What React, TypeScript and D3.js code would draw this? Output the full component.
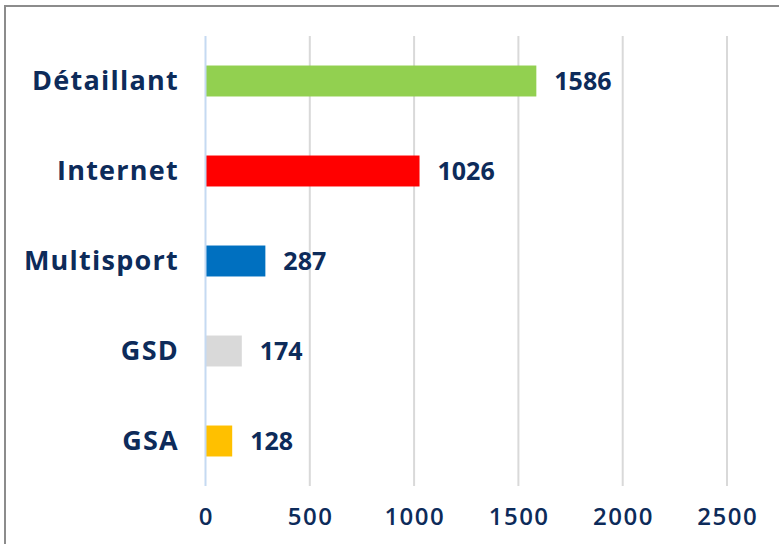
import React from "react";
import * as d3 from "d3";

const categories = ["Détaillant", "Internet", "Multisport", "GSD", "GSA"];
const values = [1586, 1026, 287, 174, 128];
const colors = ["#92d050", "#ff0000", "#0070c0", "#d9d9d9", "#ffc000"];
const ticks = [0, 500, 1000, 1500, 2000, 2500];

const W = 779;
const H = 544;
const navy = "#0d2b5a";
const font = "'Open Sans', 'DejaVu Sans', sans-serif";

export default function App() {
  const x = d3.scaleLinear().domain([0, 2500]).range([205.5, 727]);
  const y = d3
    .scaleBand<string>()
    .domain(categories)
    .range([36, 486])
    .paddingInner(0.656)
    .paddingOuter(0.328);

  return (
    <div style={{ position: "absolute", left: 0, top: 0 }}>
      <svg width={W} height={H} style={{ display: "block", background: "#fff" }}>
        <rect x={5} y={6} width={W + 10} height={H + 10} fill="#fff" stroke="#8c8c8c" strokeWidth={2} />
        {ticks.slice(1).map((t) => (
          <line key={t} x1={x(t)} x2={x(t)} y1={36} y2={486} stroke="#d9d9d9" strokeWidth={2} />
        ))}
        {categories.map((c, i) => (
          <g key={c}>
            <rect
              x={x(0)}
              y={y(c)}
              width={x(values[i]) - x(0)}
              height={y.bandwidth()}
              fill={colors[i]}
            />
            <text
              x={179}
              y={(y(c) as number) + y.bandwidth() / 2}
              dy="0.34em"
              textAnchor="end"
              fontFamily={font}
              fontWeight={700}
              fontSize={27}
              letterSpacing={1.25}
              fill={navy}
            >
              {c}
            </text>
            <text
              x={x(values[i]) + 18}
              y={(y(c) as number) + y.bandwidth() / 2}
              dy="0.36em"
              fontFamily={font}
              fontWeight={700}
              fontSize={25}
              fill={navy}
            >
              {values[i]}
            </text>
          </g>
        ))}
        <line x1={x(0)} x2={x(0)} y1={36} y2={486} stroke="#c5daf2" strokeWidth={2} />
        {ticks.map((t) => (
          <text
            key={t}
            x={x(t) + 0.75}
            y={525}
            textAnchor="middle"
            fontFamily={font}
            fontWeight={600}
            fontSize={24}
            letterSpacing={1.5}
            fill={navy}
          >
            {t}
          </text>
        ))}
      </svg>
    </div>
  );
}
